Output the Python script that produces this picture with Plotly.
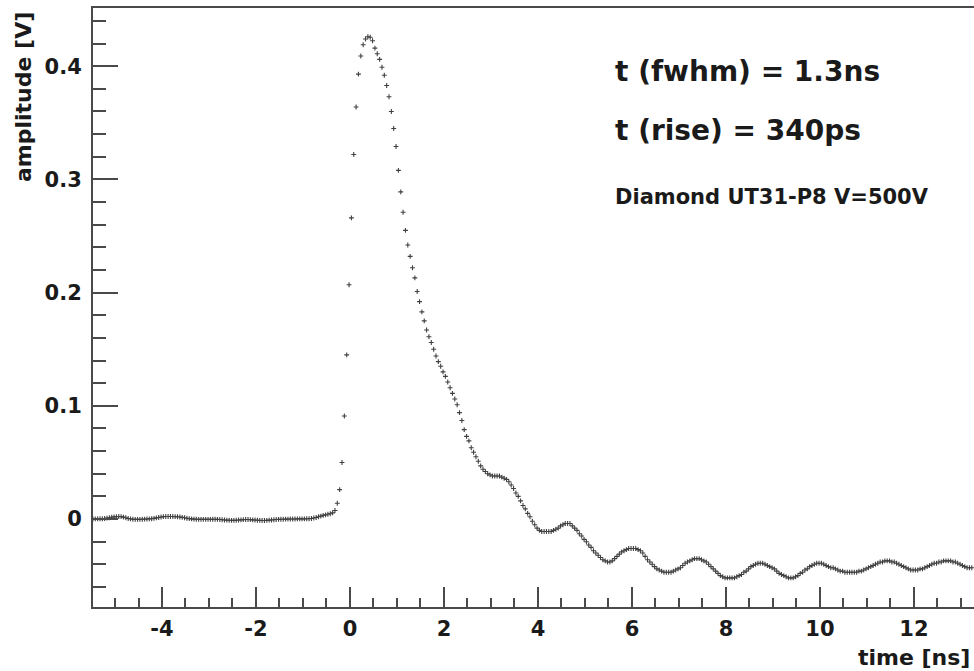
import plotly.graph_objects as go

# Oscilloscope trace: first sample time and sampling period (ns)
T0_NS = -5.47
DT_NS = 0.05

# Sampled amplitude in volts, 20 samples (1 ns) per row
amplitude_v = [
    0.0000, 0.0001, 0.0001, 0.0002, 0.0003, 0.0005, 0.0008, 0.0012, 0.0016, 0.0019,
    0.0021, 0.0022, 0.0021, 0.0017, 0.0011, 0.0005, 0.0001, -0.0002, -0.0003, -0.0003,
    -0.0003, -0.0002, -0.0001, 0.0000, 0.0001, 0.0003, 0.0006, 0.0010, 0.0014, 0.0018,
    0.0021, 0.0022, 0.0023, 0.0023, 0.0022, 0.0021, 0.0020, 0.0018, 0.0015, 0.0011,
    0.0007, 0.0004, 0.0001, -0.0001, -0.0002, -0.0003, -0.0003, -0.0003, -0.0003, -0.0003,
    -0.0003, -0.0002, -0.0002, -0.0003, -0.0004, -0.0006, -0.0008, -0.0010, -0.0011, -0.0012,
    -0.0012, -0.0011, -0.0009, -0.0007, -0.0005, -0.0004, -0.0004, -0.0005, -0.0007, -0.0009,
    -0.0011, -0.0012, -0.0013, -0.0013, -0.0012, -0.0010, -0.0008, -0.0006, -0.0004, -0.0003,
    -0.0002, -0.0002, -0.0001, -0.0001, 0.0000, 0.0000, 0.0000, 0.0001, 0.0001, 0.0001,
    0.0001, 0.0002, 0.0003, 0.0005, 0.0009, 0.0014, 0.0020, 0.0026, 0.0032, 0.0037,
    0.0042, 0.0047, 0.0054, 0.0075, 0.0140, 0.0260, 0.0500, 0.0910, 0.1450, 0.2070,
    0.2660, 0.3220, 0.3640, 0.3930, 0.4090, 0.4190, 0.4240, 0.4260, 0.4255, 0.4225,
    0.416, 0.411, 0.406, 0.399, 0.392, 0.383, 0.373, 0.360, 0.345, 0.329,
    0.308, 0.289, 0.271, 0.255, 0.242, 0.232, 0.222, 0.213, 0.201, 0.192,
    0.183, 0.175, 0.167, 0.161, 0.156, 0.150, 0.144, 0.139, 0.135, 0.130,
    0.126, 0.121, 0.116, 0.111, 0.106, 0.101, 0.094, 0.087, 0.079, 0.073,
    0.069, 0.063, 0.059, 0.055, 0.051, 0.047, 0.044, 0.042, 0.040, 0.039,
    0.038, 0.038, 0.038, 0.038, 0.037, 0.036, 0.035, 0.033, 0.030, 0.027,
    0.023, 0.020, 0.016, 0.012, 0.009, 0.005, 0.002, -0.002, -0.005, -0.008,
    -0.010, -0.011, -0.011, -0.011, -0.011, -0.011, -0.010, -0.009, -0.008, -0.006,
    -0.005, -0.004, -0.004, -0.004, -0.006, -0.008, -0.010, -0.013, -0.015, -0.018,
    -0.020, -0.023, -0.025, -0.028, -0.030, -0.032, -0.034, -0.036, -0.037, -0.038,
    -0.038, -0.037, -0.035, -0.033, -0.031, -0.029, -0.028, -0.027, -0.026, -0.026,
    -0.026, -0.026, -0.027, -0.028, -0.030, -0.033, -0.036, -0.038, -0.040, -0.042,
    -0.044, -0.045, -0.046, -0.047, -0.047, -0.047, -0.047, -0.046, -0.045, -0.044,
    -0.043, -0.041, -0.039, -0.038, -0.037, -0.036, -0.035, -0.035, -0.035, -0.036,
    -0.037, -0.038, -0.040, -0.042, -0.044, -0.046, -0.048, -0.050, -0.051, -0.052,
    -0.052, -0.052, -0.052, -0.052, -0.051, -0.050, -0.049, -0.047, -0.046, -0.044,
    -0.042, -0.041, -0.040, -0.039, -0.039, -0.039, -0.040, -0.041, -0.042, -0.043,
    -0.044, -0.046, -0.048, -0.049, -0.050, -0.051, -0.052, -0.052, -0.052, -0.051,
    -0.050, -0.048, -0.047, -0.045, -0.044, -0.042, -0.041, -0.040, -0.039, -0.039,
    -0.039, -0.040, -0.041, -0.042, -0.043, -0.043, -0.044, -0.045, -0.046, -0.046,
    -0.047, -0.047, -0.047, -0.047, -0.047, -0.047, -0.046, -0.046, -0.045, -0.044,
    -0.043, -0.042, -0.041, -0.040, -0.039, -0.038, -0.038, -0.037, -0.037, -0.037,
    -0.038, -0.038, -0.039, -0.040, -0.041, -0.042, -0.043, -0.044, -0.045, -0.045,
    -0.045, -0.045, -0.044, -0.044, -0.043, -0.042, -0.041, -0.040, -0.039, -0.039,
    -0.038, -0.038, -0.037, -0.037, -0.037, -0.037, -0.038, -0.038, -0.039, -0.040,
    -0.041, -0.042, -0.043, -0.043, -0.043,
]
time_ns = [round(T0_NS + DT_NS * i, 3) for i in range(len(amplitude_v))]

x_tick_values = [-4, -2, 0, 2, 4, 6, 8, 10, 12]
x_tick_labels = ["-4", "-2", "0", "2", "4", "6", "8", "10", "12"]
y_tick_values = [0.0, 0.1, 0.2, 0.3, 0.4]
y_tick_labels = ["0", "0.1", "0.2", "0.3", "0.4"]

info_lines = ["t (fwhm) = 1.3ns", "t (rise) = 340ps", "Diamond UT31-P8 V=500V"]

FONT = "DejaVu Sans"
AXIS_COLOR = "#4a4a4a"
TEXT_COLOR = "#1a1a1a"
MARKER_COLOR = "#404040"

fig = go.Figure()
fig.add_trace(go.Scatter(
    x=time_ns, y=amplitude_v, mode="markers",
    marker=dict(symbol="cross-thin", size=3.5,
                line=dict(width=1.1, color=MARKER_COLOR), color=MARKER_COLOR),
    showlegend=False, hoverinfo="x+y",
))

fig.update_layout(
    width=974, height=671,
    margin=dict(l=93, r=0, t=8, b=64),
    paper_bgcolor="white", plot_bgcolor="white",
    font=dict(family=FONT, color=TEXT_COLOR),
    xaxis=dict(
        range=[-5.468, 13.277],
        tickmode="array", tickvals=x_tick_values, ticktext=x_tick_labels,
        ticks="inside", ticklen=20, tickwidth=1.5, tickcolor=AXIS_COLOR,
        minor=dict(tickmode="linear", tick0=0, dtick=0.5, ticks="inside",
                   ticklen=9, tickwidth=1.5, tickcolor=AXIS_COLOR),
        showline=True, linecolor=AXIS_COLOR, linewidth=2, mirror=True,
        showgrid=False, zeroline=False,
        tickfont=dict(family=FONT, size=21, weight="bold", color=TEXT_COLOR),
        ticklabelstandoff=2,
    ),
    yaxis=dict(
        range=[-0.0777, 0.4514],
        tickmode="array", tickvals=y_tick_values, ticktext=y_tick_labels,
        ticks="inside", ticklen=25, tickwidth=1.5, tickcolor=AXIS_COLOR,
        minor=dict(tickmode="linear", tick0=0, dtick=0.02, ticks="inside",
                   ticklen=13, tickwidth=1.5, tickcolor=AXIS_COLOR),
        showline=True, linecolor=AXIS_COLOR, linewidth=2, mirror=False,
        showgrid=False, zeroline=False,
        tickfont=dict(family=FONT, size=21, weight="bold", color=TEXT_COLOR),
        ticklabelstandoff=5,
    ),
)

# Axis titles in ROOT style: x title at bottom right, y title rotated at top left
fig.add_annotation(text="time [ns]", xref="paper", yref="paper",
                   x=0.9977, y=-0.0835, xanchor="right", yanchor="middle",
                   showarrow=False,
                   font=dict(family=FONT, size=22, weight="bold", color=TEXT_COLOR))
fig.add_annotation(text="amplitude [V]", xref="paper", yref="paper",
                   x=-0.0783, y=0.9967, xanchor="center", yanchor="top",
                   textangle=-90, showarrow=False,
                   font=dict(family=FONT, size=22, weight="bold", color=TEXT_COLOR))

# Pulse characteristics
info_y = [0.8948, 0.7963, 0.6845]
info_size = [28, 28, 21]
for line, yy, sz in zip(info_lines, info_y, info_size):
    fig.add_annotation(text=line, xref="paper", yref="paper",
                       x=0.5902, y=yy, xanchor="left", yanchor="middle",
                       showarrow=False,
                       font=dict(family=FONT, size=sz, weight="bold", color=TEXT_COLOR))

fig.write_html("out.html")
